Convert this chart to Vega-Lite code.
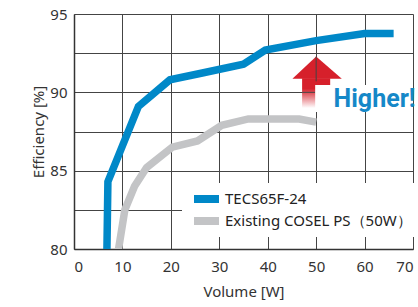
{
  "$schema": "https://vega.github.io/schema/vega-lite/v6.json",
  "width": 339,
  "height": 235,
  "autosize": {"type": "none"},
  "padding": {"left": 74, "top": 14, "right": 5, "bottom": 58},
  "background": "white",
  "config": {"view": {"stroke": null}, "font": "Noto Sans"},
  "datasets": {
    "curves": [
      {"series": "TECS65F-24", "x": 6.8, "y": 80},
      {"series": "TECS65F-24", "x": 7.0, "y": 84.3},
      {"series": "TECS65F-24", "x": 13.3, "y": 89.1},
      {"series": "TECS65F-24", "x": 19.8, "y": 90.8},
      {"series": "TECS65F-24", "x": 26, "y": 91.2},
      {"series": "TECS65F-24", "x": 35, "y": 91.8},
      {"series": "TECS65F-24", "x": 39.5, "y": 92.7},
      {"series": "TECS65F-24", "x": 50, "y": 93.3},
      {"series": "TECS65F-24", "x": 60, "y": 93.75},
      {"series": "TECS65F-24", "x": 66, "y": 93.75},
      {"series": "Existing COSEL PS（50W）", "x": 9.2, "y": 80},
      {"series": "Existing COSEL PS（50W）", "x": 10.5, "y": 82.5},
      {"series": "Existing COSEL PS（50W）", "x": 12.5, "y": 84},
      {"series": "Existing COSEL PS（50W）", "x": 15, "y": 85.2},
      {"series": "Existing COSEL PS（50W）", "x": 20.3, "y": 86.5},
      {"series": "Existing COSEL PS（50W）", "x": 25.5, "y": 86.9},
      {"series": "Existing COSEL PS（50W）", "x": 30.5, "y": 87.9},
      {"series": "Existing COSEL PS（50W）", "x": 36, "y": 88.3},
      {"series": "Existing COSEL PS（50W）", "x": 46.5, "y": 88.3},
      {"series": "Existing COSEL PS（50W）", "x": 50, "y": 88.1}
    ],
    "arrowhead": [{"x": 45.1, "y": 90.86}, {"x": 50, "y": 92.28}, {"x": 55.3, "y": 90.86}],
    "shaft": [{"x": 47.1, "x2": 52.9, "y": 90.9, "y2": 89.0}],
    "box": [{"x": 49.8, "x2": 69.9, "y": 90.47, "y2": 88.74}],
    "label": [{"x": 53.6, "y": 89.06, "text": "Higher!"}],
    "gridfix": [
      {"x": 47.1, "x2": 49.8, "y": 90, "y2": 90},
      {"x": 50, "x2": 50, "y": 90.7, "y2": 92.28}
    ]
  },
  "encoding": {
    "x": {
      "field": "x", "type": "quantitative",
      "scale": {"domain": [0, 70], "nice": false, "zero": false},
      "axis": {
        "values": [0, 10, 20, 30, 40, 50, 60, 70],
        "grid": true, "gridColor": "#444", "gridWidth": 1,
        "domainColor": "#333", "domainWidth": 1.5, "ticks": false,
        "labelFontSize": 15, "labelColor": "#333", "labelPadding": 10,
        "title": "Volume [W]", "titleFontSize": 15, "titleFontWeight": "normal",
        "titleColor": "#333", "titlePadding": 10
      }
    },
    "y": {
      "field": "y", "type": "quantitative",
      "scale": {"domain": [80, 95], "nice": false, "zero": false},
      "axis": {
        "values": [80, 82.5, 85, 87.5, 90, 92.5, 95],
        "labelExpr": "datum.value % 5 === 0 ? datum.label : ''",
        "grid": true, "gridColor": "#444", "gridWidth": 1,
        "domainColor": "#333", "domainWidth": 1.5, "ticks": false,
        "labelFontSize": 15, "labelColor": "#333", "labelPadding": 7,
        "title": "Efficiency [%]", "titleFontSize": 15, "titleFontWeight": "normal",
        "titleColor": "#333", "titlePadding": 3
      }
    }
  },
  "layer": [
    {
      "data": {"name": "shaft"},
      "mark": {"type": "rect", "fill": {"gradient": "linear", "x1": 0, "y1": 0, "x2": 0, "y2": 1, "stops": [{"offset": 0, "color": "#d6202b"}, {"offset": 0.35, "color": "#d6202b"}, {"offset": 1, "color": "#ffffff"}]}},
      "encoding": {"x2": {"field": "x2"}, "y2": {"field": "y2"}}
    },
    {
      "data": {"name": "arrowhead"},
      "mark": {"type": "area", "color": "#d6202b"},
      "encoding": {"y2": {"datum": 90.86}}
    },
    {
      "data": {"name": "gridfix"},
      "mark": {"type": "rule", "color": "#444", "strokeWidth": 1},
      "encoding": {"x2": {"field": "x2"}, "y2": {"field": "y2"}}
    },
    {
      "data": {"name": "box"},
      "mark": {"type": "rect", "color": "white"},
      "encoding": {"x2": {"field": "x2"}, "y2": {"field": "y2"}}
    },
    {
      "data": {"name": "label"},
      "mark": {"type": "text", "align": "left", "baseline": "alphabetic", "font": "Roboto", "fontWeight": "bold", "fontSize": 25, "color": "#1588c8"},
      "encoding": {"text": {"field": "text"}}
    },
    {
      "data": {"name": "curves"},
      "mark": {"type": "line", "strokeWidth": 7.5, "clip": true},
      "encoding": {
        "color": {
          "field": "series", "type": "nominal",
          "scale": {"domain": ["TECS65F-24", "Existing COSEL PS（50W）"], "range": ["#0088c8", "#c3c4c6"]},
          "legend": {
            "orient": "none", "legendX": 108, "legendY": 169, "fillColor": "white",
            "padding": 8, "title": null, "symbolType": "stroke", "symbolSize": 625,
            "symbolStrokeWidth": 8, "labelFontSize": 15, "labelColor": "#222",
            "labelFont": "Noto Sans", "labelLimit": 300, "clipHeight": 16, "rowPadding": 6, "labelOffset": 2
          }
        }
      }
    }
  ]
}
